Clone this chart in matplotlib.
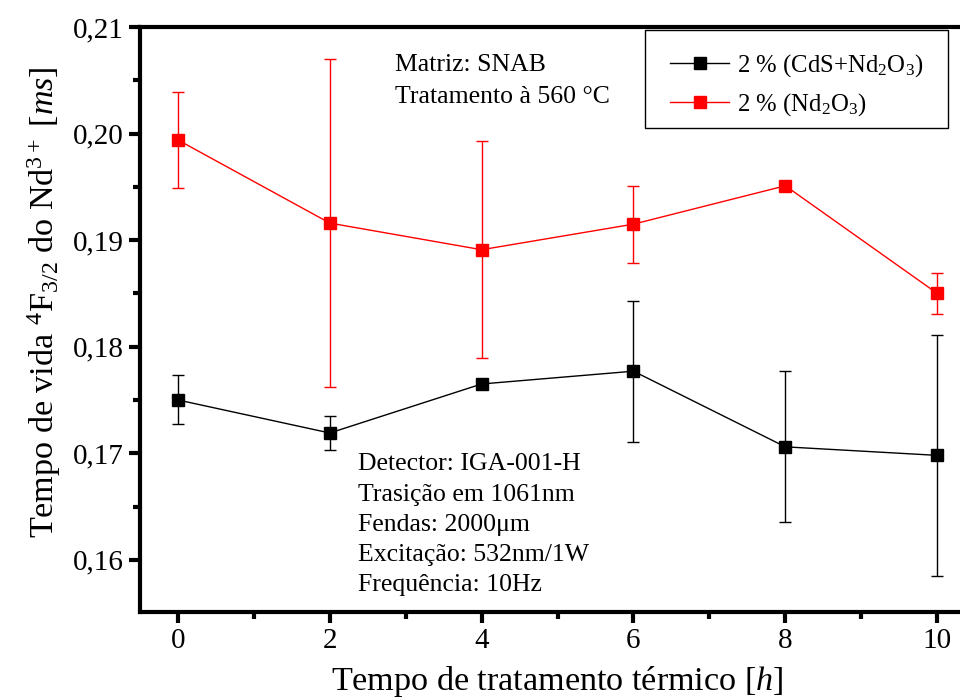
import matplotlib.pyplot as plt
import numpy as np
from matplotlib.lines import Line2D
from matplotlib.patches import Rectangle
from matplotlib.ticker import MultipleLocator, FuncFormatter

plt.rcParams['font.family'] = ['Liberation Serif', 'DejaVu Serif']
plt.rcParams['mathtext.fontset'] = 'custom'
plt.rcParams['mathtext.rm'] = 'Liberation Serif'
plt.rcParams['mathtext.it'] = 'Liberation Serif:italic'

# Tempo de tratamento (h)
t = np.array([0, 2, 4, 6, 8, 10])

# 2 % (CdS+Nd2O3)
tau_cds = np.array([0.1750, 0.1719, 0.1765, 0.1777, 0.1706, 0.1698])
err_cds = np.array([0.0023, 0.0016, 0.0, 0.0066, 0.0071, 0.0113])

# 2 % (Nd2O3)
tau_nd = np.array([0.1994, 0.1916, 0.1891, 0.1915, 0.1951, 0.1850])
err_nd = np.array([0.0045, 0.0154, 0.0102, 0.0036, 0.0, 0.0019])

fig = plt.figure(figsize=(9.6, 6.98), dpi=100)
ax = fig.add_axes([0.1458, 0.1232, 0.870, 0.8381])

ax.errorbar(t, tau_cds, yerr=err_cds, color="k", marker="s", markersize=8.5,
            linewidth=1, elinewidth=1, capsize=4, capthick=1)
ax.errorbar(t, tau_nd, yerr=err_nd, color="#ff0000", marker="s", markersize=8.5,
            linewidth=1, elinewidth=1, capsize=4, capthick=1)

ax.set_xlim(-0.5, 10.5)
ax.set_ylim(0.1551, 0.21)
ax.xaxis.set_major_locator(MultipleLocator(2))
ax.xaxis.set_minor_locator(MultipleLocator(1))
ax.yaxis.set_major_locator(MultipleLocator(0.01))
ax.yaxis.set_minor_locator(MultipleLocator(0.005))
ax.yaxis.set_major_formatter(FuncFormatter(lambda v, p: f"{v:.2f}".replace(".", ",")))

for s in ax.spines.values():
    s.set_linewidth(3)
ax.tick_params(which="major", direction="out", length=8, width=3, labelsize=21)
ax.tick_params(which="minor", direction="out", length=5, width=3)

ax.set_xlabel(r"Tempo de tratamento térmico [$h$]", fontsize=24.6, labelpad=7)
ax.set_ylabel(r"Tempo de vida $^4$F$_{3/2}$ do Nd$^{3+}$ [$ms$]", fontsize=24.6)
ax.yaxis.set_label_coords(-0.092, 0.53)

ax.text(0.305, 0.954, "Matriz: SNAB\nTratamento à 560 °C", transform=ax.transAxes,
        fontsize=18.5, va="top", ha="left", linespacing=1.6)
ax.text(0.261, 0.271, "Detector: IGA-001-H\nTrasição em 1061nm\nFendas: 2000μm\n"
        "Excitação: 532nm/1W\nFrequência: 10Hz", transform=ax.transAxes,
        fontsize=18.5, va="top", ha="left", linespacing=1.48)

# caixa da legenda
fig.patches.append(Rectangle((645 / 960, 1 - 128 / 698), 303 / 960, 98 / 698,
                             transform=fig.transFigure, facecolor="white",
                             edgecolor="k", linewidth=1, zorder=5))
handles = [
    Line2D([], [], color="k", marker="s", markersize=8.5, linewidth=1),
    Line2D([], [], color="#ff0000", marker="s", markersize=8.5, linewidth=1),
]
labels = [r"2 % (CdS+Nd$_2$O$_3$)", r"2 % (Nd$_2$O$_3$)"]
leg = fig.legend(handles, labels, loc="upper left", bbox_to_anchor=(670 / 960, 1 - 52 / 698),
                 borderaxespad=0, borderpad=0, fontsize=17.8, frameon=False,
                 handlelength=2.4, handletextpad=0.3, labelspacing=0.5)
leg.set_zorder(6)

plt.savefig("out.png", dpi=100)
plt.close()
